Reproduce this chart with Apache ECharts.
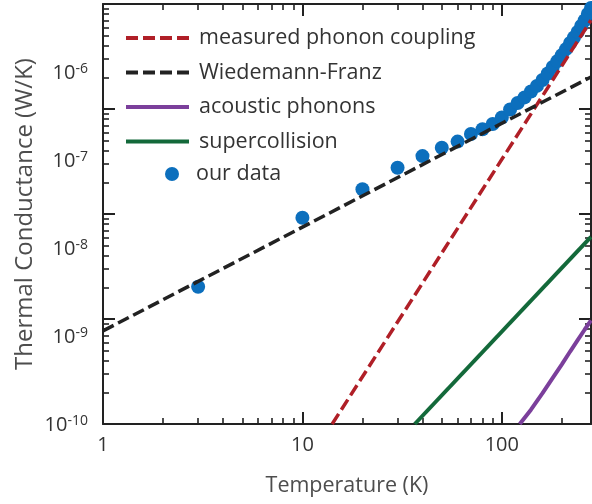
<!DOCTYPE html>
<html><head><meta charset="utf-8">
<script src="https://cdn.jsdelivr.net/npm/echarts@6/dist/echarts.min.js"></script>
<style>html,body{margin:0;padding:0;background:#fff}#c{width:592px;height:504px}</style>
</head><body><div id="c"></div>
<script>
// ---- data ----
const dataT = [3, 10, 20, 30, 40, 50, 60, 70, 80, 90,
  100, 110, 120, 130, 140, 150, 160, 170, 180, 190,
  200, 210, 220, 230, 240, 250, 260, 270, 280];
const dataG = [2.03e-9, 9.2e-9, 1.72e-8, 2.76e-8, 3.56e-8, 4.27e-8, 4.89e-8, 5.78e-8, 6.41e-8, 7.2e-8,
  8.3e-8, 9.88e-8, 1.14e-7, 1.29e-7, 1.47e-7, 1.66e-7, 1.89e-7, 2.18e-7, 2.51e-7, 2.86e-7,
  3.26e-7, 3.72e-7, 4.25e-7, 4.8e-7, 5.41e-7, 6.17e-7, 6.97e-7, 8.04e-7, 9.16e-7];
const phononT = [14.1, 280];
const phononG = [1e-10, 7.0e-7];
const wfT = [1, 280];
const wfG = [7.7e-10, 2.02e-7];
const acousticT = [123, 140, 160, 180, 200, 220, 240, 260, 280];
const acousticG = [1e-10, 1.37e-10, 1.97e-10, 2.75e-10, 3.7e-10, 4.9e-10, 6.3e-10, 7.9e-10, 9.7e-10];
const superT = [36.6, 280];
const superG = [1e-10, 6.04e-9];
// ---- ticks ----
const xMajor = [1, 10, 100];
const xMinor = [2, 3, 4, 5, 6, 7, 8, 9, 20, 30, 40, 50, 60, 70, 80, 90, 200];
const xLabels = [1, 10, 100];
const yMajor = [1e-10, 1e-9, 1e-8, 1e-7, 1e-6];
const yLabels = [1e-10, 1e-9, 1e-8, 1e-7, 1e-6];
const yMinor = [];
[-10, -9, -8, -7].forEach(e => { for (let m = 2; m <= 9; m++) yMinor.push(m * Math.pow(10, e)); });

const zip = (a, b) => a.map((v, i) => [v, b[i]]);
const FONT = 'Open Sans';
const AX = '#222';
const TXT = '#333';

function xTickAxis(pos, vals, len, showLine) {
  return {
    type: 'log', gridIndex: 0, position: pos, min: 1, max: 280,
    axisLine: { show: showLine, lineStyle: { color: AX, width: 2 } },
    axisTick: { show: true, inside: true, length: len, customValues: vals, lineStyle: { color: AX, width: len > 8 ? 2 : 1.6 } },
    axisLabel: { show: false }, splitLine: { show: false }
  };
}
function yTickAxis(pos, vals, len, showLine) {
  return {
    type: 'log', gridIndex: 0, position: pos, min: 1e-10, max: 1e-6,
    axisLine: { show: showLine, lineStyle: { color: AX, width: 2 } },
    axisTick: { show: true, inside: true, length: len, customValues: vals, lineStyle: { color: AX, width: len > 8 ? 2 : 1.6 } },
    axisLabel: { show: false }, splitLine: { show: false }
  };
}

const xMain = xTickAxis('bottom', xMajor, 12, true);
xMain.axisLabel = { show: true, customValues: xLabels, fontFamily: FONT, fontSize: 20, color: TXT, margin: 11 };
xMain.name = 'Temperature (K)';
xMain.nameLocation = 'middle';
xMain.nameGap = 51;
xMain.nameTextStyle = { fontFamily: FONT, fontSize: 21.5, color: '#4d4d4d' };

const yMain = yTickAxis('left', yMajor, 12, true);
yMain.name = 'Thermal Conductance (W/K)';
yMain.nameLocation = 'middle';
yMain.nameGap = 66;
yMain.nameRotate = 90;
yMain.nameTextStyle = { fontFamily: FONT, fontSize: 24, color: '#4d4d4d' };

const legendText = { fontFamily: FONT, fontSize: 21.5, color: TXT, lineHeight: 24, padding: [0, 0, 0, 5] };

const option = {
  animation: false,
  backgroundColor: '#fff',
  grid: [
    { left: 103, right: 1, top: 4, bottom: 80 },
    { left: 103, right: 1, top: 73, bottom: 79 }
  ],
  xAxis: [
    xMain,
    xTickAxis('bottom', xMinor, 6, false),
    xTickAxis('top', xMajor, 12, true),
    xTickAxis('top', xMinor, 6, false),
    { type: 'log', gridIndex: 1, min: 1, max: 280, show: false }
  ],
  yAxis: [
    yMain,
    yTickAxis('left', yMinor, 6, false),
    yTickAxis('right', yMajor, 12, true),
    yTickAxis('right', yMinor, 6, false),
    {
      type: 'log', gridIndex: 1, position: 'left', min: 1e-10, max: 1e-6,
      axisLine: { show: false }, axisTick: { show: false }, splitLine: { show: false },
      axisLabel: {
        show: true, customValues: yLabels, margin: 15,
        formatter: v => '{b|10}{s|' + Math.round(Math.log10(v)) + '}',
        rich: {
          b: { fontFamily: FONT, fontSize: 20, color: TXT, lineHeight: 22 },
          s: { fontFamily: FONT, fontSize: 14, color: TXT, verticalAlign: 'top', lineHeight: 14 }
        }
      }
    }
  ],
  legend: [
    {
      data: ['measured phonon coupling', 'Wiedemann-Franz', 'acoustic phonons', 'supercollision'],
      orient: 'vertical', left: 124, top: 26, padding: 0, itemWidth: 63, itemHeight: 14, itemGap: 10.5,
      itemStyle: { opacity: 0 }, lineStyle: { width: 4 },
      textStyle: legendText, selectedMode: false
    },
    {
      data: ['our data'], orient: 'vertical', left: 165, top: 162, padding: 0, itemWidth: 28, itemHeight: 14,
      textStyle: legendText, selectedMode: false
    }
  ],
  series: [
    {
      name: 'our data', type: 'scatter', xAxisIndex: 0, yAxisIndex: 0,
      data: zip(dataT, dataG), symbol: 'circle', symbolSize: 14,
      itemStyle: { color: '#0c6fbd', opacity: 1 }
    },
    {
      name: 'measured phonon coupling', type: 'line', xAxisIndex: 0, yAxisIndex: 0,
      data: zip(phononT, phononG), symbol: 'none', showSymbol: false,
      lineStyle: { color: '#b01f27', width: 3.5, type: [12, 5] }, itemStyle: { color: '#b01f27' }
    },
    {
      name: 'Wiedemann-Franz', type: 'line', xAxisIndex: 0, yAxisIndex: 0,
      data: zip(wfT, wfG), symbol: 'none', showSymbol: false,
      lineStyle: { color: '#222222', width: 3.5, type: [12, 5] }, itemStyle: { color: '#222222' }
    },
    {
      name: 'acoustic phonons', type: 'line', xAxisIndex: 0, yAxisIndex: 0,
      data: zip(acousticT, acousticG), symbol: 'none', showSymbol: false,
      lineStyle: { color: '#7b3f9b', width: 4 }, itemStyle: { color: '#7b3f9b' }
    },
    {
      name: 'supercollision', type: 'line', xAxisIndex: 0, yAxisIndex: 0,
      data: zip(superT, superG), symbol: 'none', showSymbol: false,
      lineStyle: { color: '#13693a', width: 4 }, itemStyle: { color: '#13693a' }
    }
  ]
};
const chart = echarts.init(document.getElementById('c'), null, { renderer: 'canvas' });
chart.setOption(option);
</script></body></html>
